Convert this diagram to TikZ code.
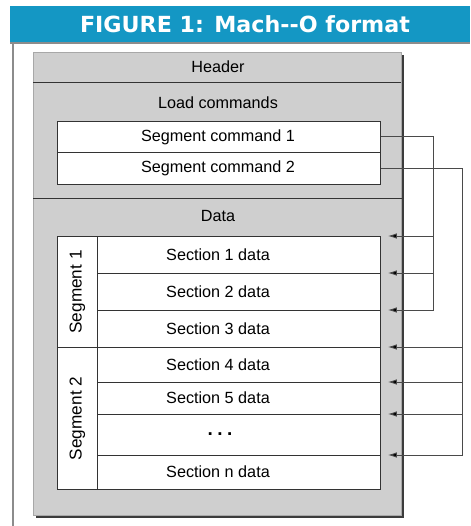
\documentclass[tikz,border=0pt]{standalone}
\usepackage{fontspec}
\setmainfont{Liberation Sans}
\newfontfamily\titlefont{DejaVu Sans}
\usetikzlibrary{arrows.meta,shadows}

\definecolor{barblue}{HTML}{1497C4}
\definecolor{framegray}{HTML}{8C8C8C}
\definecolor{panelgray}{HTML}{CFCFCF}
\definecolor{panelrim}{HTML}{A8A8A8}
\definecolor{shadowgray}{HTML}{3C3C3C}
\definecolor{boxline}{HTML}{333333}
\definecolor{wiregray}{HTML}{4A4A4A}

\tikzset{
  panel/.style={fill=panelgray, draw=panelrim, line width=0.6pt, inner sep=0pt,
    drop shadow={shadow xshift=2.5pt, shadow yshift=-2.5pt, opacity=1, fill=shadowgray}},
  cell/.style={draw=boxline, fill=white, line width=0.9pt, inner sep=0pt, anchor=north west},
  area/.style={inner sep=0pt, anchor=north west},
  divider/.style={draw=boxline, line width=1pt},
  txt/.style={font=\fontsize{16.2}{17}\selectfont, text=black, inner sep=0pt},
  vtxt/.style={font=\fontsize{17.2}{18}\selectfont, text=black, inner sep=0pt, rotate=90},
  wire/.style={draw=wiregray, line width=0.9pt},
  feed/.style={wire, -{Latex[length=9pt,width=5.5pt,fill=black]}},
}

\begin{document}
\begin{tikzpicture}[x=1pt,y=-1pt]
  \useasboundingbox (0,0) rectangle (470,526);
  \fill[white] (0,0) rectangle (470,526);

  % title bar and page frame
  \fill[barblue] (10,6) rectangle (470,42);
  \draw[framegray, line width=1.6pt] (10,43) -- (470,43);
  \draw[framegray, line width=1.6pt] (12.8,43) -- (12.8,526);
  \node[font=\titlefont\bfseries\fontsize{22.2}{23}\selectfont, text=white, inner sep=0pt]
    (title) at (245,24) {FIGURE 1: Mach-{}-O format};

  % file body
  \node[panel, anchor=north west, minimum width=368pt, minimum height=463pt] (outer) at (33,52) {};

  % header
  \node[area, minimum width=368pt, minimum height=30pt] (header) at (33,52) {};
  \node[txt] (headerlbl) at (218,67) {Header};
  \draw[divider] (header.south west) -- (header.south east);

  % load commands
  \node[txt] (loadlbl) at (218,103) {Load commands};
  \node[cell, minimum width=323pt, minimum height=31pt] (cmd1) at (57,121) {};
  \node[cell, minimum width=323pt, minimum height=32pt] (cmd2) at (57,152) {};
  \node[txt] (cmd1lbl) at (218,137) {Segment command 1};
  \node[txt] (cmd2lbl) at (218,168) {Segment command 2};
  \coordinate (datatop) at (33,199);
  \draw[divider] (datatop) -- (datatop -| outer.east);

  % data
  \node[txt] (datalbl) at (218,216) {Data};
  \node[cell, minimum width=40pt, minimum height=111pt] (seg1) at (57,236) {};
  \node[cell, minimum width=40pt, minimum height=142pt] (seg2) at (57,347) {};
  \node[vtxt] (seg1lbl) at (seg1.center) {Segment 1};
  \node[vtxt] (seg2lbl) at (seg2.center) {Segment 2};

  \node[cell, minimum width=283pt, minimum height=37pt] (sec1) at (97,236) {};
  \node[cell, minimum width=283pt, minimum height=37pt] (sec2) at (97,273) {};
  \node[cell, minimum width=283pt, minimum height=37pt] (sec3) at (97,310) {};
  \node[cell, minimum width=283pt, minimum height=35pt] (sec4) at (97,347) {};
  \node[cell, minimum width=283pt, minimum height=32pt] (sec5) at (97,382) {};
  \node[cell, minimum width=283pt, minimum height=41pt] (dots) at (97,414) {};
  \node[cell, minimum width=283pt, minimum height=34pt] (secn) at (97,455) {};

  \node[txt] (sec1lbl) at (218,254.5) {Section 1 data};
  \node[txt] (sec2lbl) at (218,291.5) {Section 2 data};
  \node[txt] (sec3lbl) at (218,328.5) {Section 3 data};
  \node[txt] (sec4lbl) at (218,364.5) {Section 4 data};
  \node[txt] (sec5lbl) at (218,398) {Section 5 data};
  \node[txt, font=\bfseries\fontsize{19}{19}\selectfont] (dotslbl) at (220,434.5)
    {.\hspace{4.5pt}.\hspace{4.5pt}.};
  \node[txt] (secnlbl) at (218,472) {Section n data};

  % segment commands point at their sections
  \coordinate (busA) at (433,0);
  \coordinate (busB) at (462,0);
  \draw[feed] (cmd1.east) -- (cmd1.east -| busA) |- ([xshift=7pt]sec3.north east);
  \draw[feed] (busA |- sec1.north east) -- ([xshift=7pt]sec1.north east);
  \draw[feed] (busA |- sec2.north east) -- ([xshift=7pt]sec2.north east);

  \draw[feed] (cmd2.east) -- (cmd2.east -| busB) |- ([xshift=7pt]secn.north east);
  \draw[feed] (busB |- sec4.north east) -- ([xshift=7pt]sec4.north east);
  \draw[feed] (busB |- sec5.north east) -- ([xshift=7pt]sec5.north east);
  \draw[feed] (busB |- dots.north east) -- ([xshift=7pt]dots.north east);
\end{tikzpicture}
\end{document}
